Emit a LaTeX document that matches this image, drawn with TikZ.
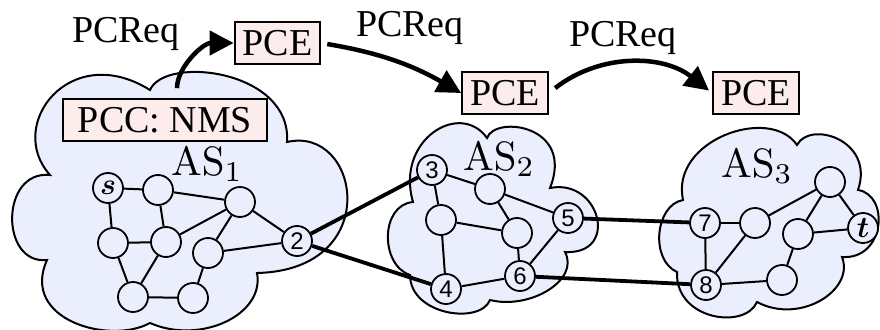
\RequirePackage{fix-cm}
\documentclass[tikz,border=0pt]{standalone}
\usepackage{amsmath, amssymb}
\usepackage[no-math]{fontspec}
\setmainfont{Liberation Serif}
\newfontfamily\labelfont{Liberation Sans}
\usepackage{tikz}
\usetikzlibrary{arrows.meta}

\definecolor{asfill}{RGB}{235,238,252}
\definecolor{pcefill}{RGB}{253,236,236}

\begin{document}
\begin{tikzpicture}[x=1pt, y=1pt,
    router/.style={circle, draw, line width=1.8pt, fill=asfill, minimum size=30pt,
        inner sep=0pt, font=\labelfont\fontsize{24}{24}\selectfont},
    endpoint/.style={router, font=\fontsize{30}{30}\selectfont},
    pcebox/.style={draw, line width=2pt, fill=pcefill, inner xsep=8pt, inner ysep=8pt,
        font=\fontsize{38}{44}\selectfont},
    aslabel/.style={anchor=base, font=\fontsize{10}{12}\selectfont, scale=4.1},
    edge/.style={line width=2pt},
    peer/.style={line width=3.8pt},
    as/.style={draw, line width=2pt, fill=asfill},
    req/.style={line width=4.5pt, -{Triangle[length=24pt,width=24pt]}}]
    \useasboundingbox (0,0) rectangle (880,-329);

    % the three domains
    \draw[as] (50,-175) .. controls (5,-125) and (70,-40) .. (150,-90)
        .. controls (165,-55) and (292,-70) .. (287,-142)
        .. controls (360,-125) and (385,-270) .. (257,-273)
        .. controls (265,-315) and (200,-345) .. (150,-323)
        .. controls (110,-345) and (20,-320) .. (47,-260)
        .. controls (0,-265) and (0,-170) .. cycle;
    \draw[as] (413,-202) .. controls (395,-140) and (460,-100) .. (487,-138)
        .. controls (495,-115) and (575,-125) .. (550,-188)
        .. controls (600,-178) and (620,-255) .. (565,-252)
        .. controls (580,-280) and (530,-310) .. (490,-300)
        .. controls (480,-325) and (410,-315) .. (410,-275)
        .. controls (380,-265) and (380,-205) .. cycle;
    \draw[as] (683,-200) .. controls (670,-140) and (770,-105) .. (797,-145)
        .. controls (810,-120) and (875,-140) .. (858,-190)
        .. controls (890,-195) and (885,-260) .. (842,-257)
        .. controls (855,-290) and (800,-325) .. (757,-302)
        .. controls (745,-330) and (675,-320) .. (677,-272)
        .. controls (650,-260) and (655,-205) .. cycle;

    \node[aslabel] at (207,-175) {$\mathrm{AS}_1$};
    \node[aslabel] at (499,-170) {$\mathrm{AS}_2$};
    \node[aslabel] at (757,-177) {$\mathrm{AS}_3$};

    % AS 1
    \node[endpoint] (s) at (108,-188) {$\boldsymbol{s}$};
    \node[router] (v1) at (158,-190) {};
    \node[router] (v2) at (240,-202) {};
    \node[router] (v3) at (113,-243) {};
    \node[router] (v4) at (166,-242) {};
    \node[router] (v5) at (208,-253) {};
    \node[router] (v6) at (133,-297) {};
    \node[router] (v7) at (193,-298) {};
    \node[router] (r2) at (297,-241) {2};

    % AS 2
    \node[router] (r3) at (432,-170) {3};
    \node[router] (w1) at (490,-189) {};
    \node[router] (w2) at (441,-220) {};
    \node[router] (w3) at (517,-233) {};
    \node[router] (r5) at (568,-218) {5};
    \node[router] (r4) at (446,-289) {4};
    \node[router] (r6) at (520,-276) {6};

    % AS 3
    \node[router] (r7) at (705,-223) {7};
    \node[router] (x1) at (755,-223) {};
    \node[router] (x2) at (830,-182) {};
    \node[router] (x3) at (798,-234) {};
    \node[endpoint] (t) at (863,-228) {$\boldsymbol{t}$};
    \node[router] (r8) at (706,-285) {8};
    \node[router] (x4) at (782,-280) {};

    \foreach \a/\b in {s/v1, s/v3, v1/v4, v1/v2, v2/v4, v2/v5, v2/r2, v3/v4, v3/v6,
        v4/v6, v6/v7, v7/v5, v5/r2,
        r3/w1, r3/w2, w1/r5, w1/w3, w2/w3, w2/r4, w3/r6, r4/r6, r6/r5,
        r7/x1, r7/r8, x1/r8, x1/x2, x2/x3, x2/t, x3/t, x3/x4, x4/r8}
        \draw[edge] (\a) -- (\b);

    % inter-domain links
    \foreach \a/\b in {r2/r3, r2/r4, r5/r7, r6/r8}
        \draw[peer] (\a) -- (\b);

    % path computation elements
    \node[pcebox, minimum width=204pt] (pcc) at (165,-120) {PCC: NMS};
    \node[pcebox] (pce1) at (277.5,-43) {PCE};
    \node[pcebox] (pce2) at (505,-93) {PCE};
    \node[pcebox] (pce3) at (756,-93) {PCE};

    \draw[req, shorten <=10pt] ([xshift=12pt]pcc.north) to[out=90, in=180] (pce1.west);
    \draw[req, shorten <=6pt] (pce1.east) to[bend left=10] (pce2.west);
    \draw[req, shorten <=8pt, shorten >=4pt] (pce2.east) to[bend left=38] (pce3.west);

    \node[anchor=base, font=\fontsize{38}{44}\selectfont] at (126,-42) {PCReq};
    \node[anchor=base, font=\fontsize{38}{44}\selectfont] at (410,-37) {PCReq};
    \node[anchor=base, font=\fontsize{38}{44}\selectfont] at (623,-47) {PCReq};
\end{tikzpicture}
\end{document}
